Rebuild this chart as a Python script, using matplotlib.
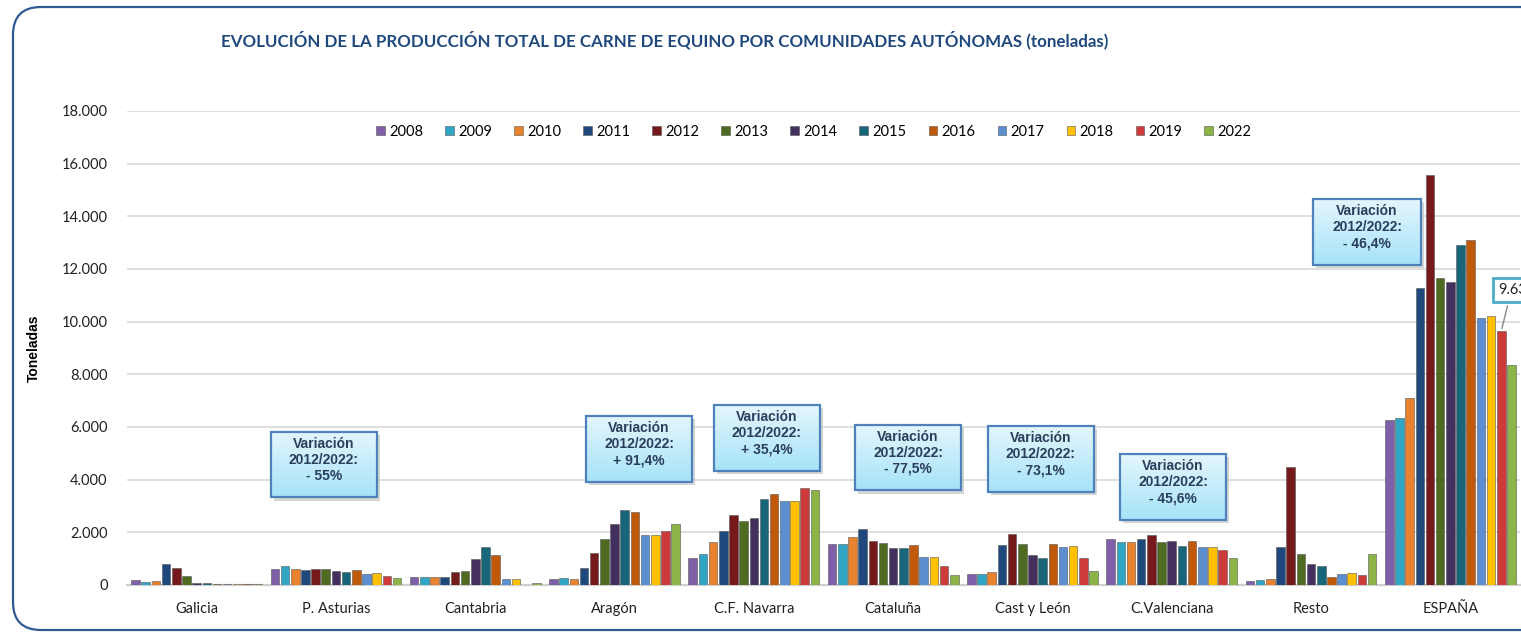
import matplotlib
matplotlib.use("Agg")
import matplotlib.pyplot as plt
import numpy as np
from matplotlib.patches import Rectangle, FancyBboxPatch
from matplotlib.transforms import IdentityTransform
from matplotlib.ticker import FuncFormatter
from matplotlib.colors import LinearSegmentedColormap

# data (toneladas)
regiones = ["Galicia", "P. Asturias", "Cantabria", "Aragón", "C.F. Navarra",
            "Cataluña", "Cast y León", "C.Valenciana", "Resto", "ESPAÑA"]
anios = ["2008", "2009", "2010", "2011", "2012", "2013", "2014",
         "2015", "2016", "2017", "2018", "2019", "2022"]

galicia = [190, 100, 150, 810, 645, 330, 65, 65, 40, 40, 40, 40, 40]
asturias = [610, 710, 610, 580, 610, 610, 545, 505, 580, 420, 445, 355, 255]
cantabria = [290, 315, 315, 315, 480, 545, 975, 1455, 1140, 215, 215, 0, 90]
aragon = [215, 255, 215, 635, 1200, 1735, 2305, 2850, 2785, 1900, 1900, 2065, 2300]
navarra = [1010, 1165, 1620, 2065, 2660, 2430, 2555, 3265, 3455, 3200, 3200, 3670, 3590]
cataluna = [1545, 1545, 1810, 2115, 1670, 1580, 1420, 1420, 1505, 1065, 1065, 710, 378]
cyl = [420, 420, 480, 1505, 1935, 1545, 1125, 1025, 1545, 1445, 1480, 1025, 520]
cvalenciana = [1735, 1635, 1635, 1735, 1900, 1635, 1670, 1480, 1670, 1445, 1445, 1340, 1034]
resto = [150, 190, 230, 1430, 4495, 1165, 800, 735, 315, 405, 445, 380, 1190]
espana = [6265, 6340, 7090, 11270, 15570, 11645, 11520, 12910, 13090, 10150, 10230, 9634, 8345]

variaciones = ["- 55%", "+ 91,4%", "+ 35,4%", "- 77,5%", "- 73,1%", "- 45,6%", "- 46,4%"]

colores = ["#7F5FA8", "#31A5C4", "#E8822E", "#1F497D", "#76191A", "#4F6B22", "#43305F",
           "#17667A", "#C05A0A", "#5B8FD0", "#FFC000", "#CC3A3A", "#8DB446"]

valores = np.array([galicia, asturias, cantabria, aragon, navarra,
                    cataluna, cyl, cvalenciana, resto, espana])

W, H = 1521, 637
fig = plt.figure(figsize=(W / 100, H / 100), dpi=100)
fig.patch.set_facecolor("white")

# outer rounded frame (cut off on the right like the original)
marco = FancyBboxPatch((13, 7), 1600, 623, boxstyle="round,pad=0,rounding_size=28",
                       transform=IdentityTransform(), fill=False,
                       edgecolor="#2F5A94", linewidth=1.6)
fig.patches.append(marco)

ax = fig.add_axes([127 / W, 52 / H, (1520 - 127) / W, (585 - 111) / H])
ax.set_facecolor("none")

x = np.arange(len(regiones))
n = len(anios)
paso = 0.95 / n
ancho = paso * 0.84
for j, anio in enumerate(anios):
    pos = x + (j - (n - 1) / 2) * paso
    ax.bar(pos, valores[:, j], width=ancho, color=colores[j], label=anio,
           edgecolor="#555555", linewidth=0.4, zorder=3)

ax.set_xlim(-0.5, len(regiones) - 0.5)
ax.set_ylim(0, 18000)
ax.set_yticks(np.arange(0, 18001, 2000))
ax.yaxis.set_major_formatter(FuncFormatter(lambda v, p: f"{int(v):,}".replace(",", ".")))
ax.grid(axis="y", color="#D9D9D9", linewidth=1.2, zorder=0)
for s in ["top", "right", "left"]:
    ax.spines[s].set_visible(False)
ax.spines["bottom"].set_color("#D0D0D0")
ax.spines["bottom"].set_linewidth(1.6)
ax.set_xticks(x)
ax.set_xticklabels(regiones)
ax.tick_params(axis="x", length=0, pad=12, labelsize=10.5, labelcolor="#222222")
ax.tick_params(axis="y", length=0, pad=14, labelsize=10.5, labelcolor="#222222")
for lab in ax.get_xticklabels() + ax.get_yticklabels():
    lab.set_fontfamily("Lato")

ax.set_ylabel("Toneladas", fontsize=10, fontweight="bold", family="Liberation Sans",
              labelpad=0)
ax.yaxis.set_label_coords(-86 / (1520 - 127), 0.5)

fig.text(665 / W, 1 - 40 / H,
         "EVOLUCIÓN DE LA PRODUCCIÓN TOTAL DE CARNE DE EQUINO POR COMUNIDADES AUTÓNOMAS (toneladas)",
         ha="center", va="center", fontsize=12.2, fontweight="bold", color="#1F497D",
         family="Lato")

leg = ax.legend(loc="center", bbox_to_anchor=(814 / W, 1 - 132 / H),
                bbox_transform=fig.transFigure, ncol=n, frameon=False,
                handlelength=0.6, handleheight=0.6, handletextpad=0.3,
                columnspacing=1.5, prop={"family": "Lato", "size": 10.5})

# "Variación" boxes: centre (x in categories, y in toneladas)
cajas = [(0.914, 4577), (3.176, 5165), (4.094, 5583), (5.107, 4842),
         (6.061, 4785), (7.009, 3722), (8.402, 13407)]
bw, bh = 0.76, 2500
grad = np.linspace(0, 1, 64).reshape(-1, 1)
cmap = LinearSegmentedColormap.from_list("caja", ["#A6E3F8", "#E3F6FD"])
for (cx, cy), txt in zip(cajas, variaciones):
    w = bw if cy < 10000 else bw * 1.02
    sombra = Rectangle((cx - w / 2 + 0.02, cy - bh / 2 - 120), w, bh,
                       facecolor="#BBBBBB", edgecolor="none", zorder=5, alpha=0.6)
    ax.add_patch(sombra)
    ax.imshow(grad, extent=(cx - w / 2, cx + w / 2, cy - bh / 2, cy + bh / 2),
              cmap=cmap, aspect="auto", origin="lower", zorder=6)
    ax.add_patch(Rectangle((cx - w / 2, cy - bh / 2), w, bh, fill=False,
                           edgecolor="#4F81BD", linewidth=1.6, zorder=7))
    ax.text(cx, cy + 180, "Variación\n2012/2022:\n" + txt, ha="center", va="center",
            fontsize=10, fontweight="bold", color="#2B3F5C", family="Liberation Sans",
            linespacing=1.2, zorder=8)
ax.set_xlim(-0.5, len(regiones) - 0.5)
ax.set_ylim(0, 18000)

# data label for ESPAÑA 2019
j19 = anios.index("2019")
xb = 9 + (j19 - (n - 1) / 2) * paso
yb = espana[j19]
ax.annotate(f"{yb:,}".replace(",", "."), xy=(xb, yb), xytext=(9.345, 11200),
            ha="left", va="center", fontsize=10.5, family="Lato", color="#222222",
            bbox=dict(boxstyle="square,pad=0.35", facecolor="white",
                      edgecolor="#4BACC6", linewidth=2),
            arrowprops=dict(arrowstyle="-", color="#888888", lw=1, relpos=(0.3, 0)),
            zorder=9, annotation_clip=False)

fig.savefig("out.png", dpi=100)
